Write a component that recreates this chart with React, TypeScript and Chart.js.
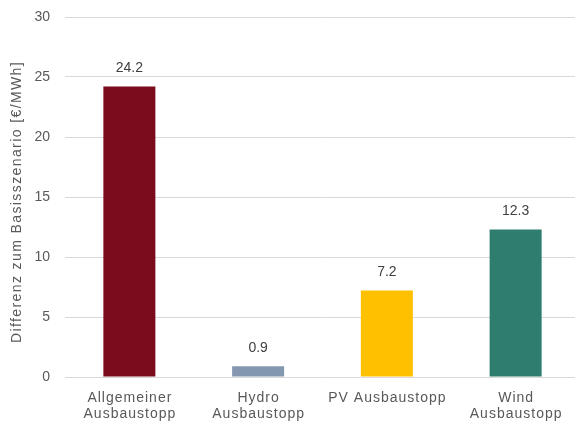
import React, { useEffect, useRef } from "react";
import { Chart, registerables } from "chart.js";

Chart.register(...registerables);

const categories: string[][] = [
  ["Allgemeiner", "Ausbaustopp"],
  ["Hydro", "Ausbaustopp"],
  ["PV Ausbaustopp"],
  ["Wind", "Ausbaustopp"],
];
const values: number[] = [24.2, 0.9, 7.2, 12.3];
const barColors: string[] = ["#7B0C1E", "#8497B0", "#FFC000", "#2E7D6F"];
const yTitle = "Differenz zum Basisszenario [€/MWh]";
const yTicks: number[] = [0, 5, 10, 15, 20, 25, 30];

const FONT = "'Liberation Sans', Arial, sans-serif";
const TEXT = "#595959";

const textPlugin = {
  id: "textPlugin",
  afterDraw(chart: any) {
    const ctx = chart.ctx;
    const area = chart.chartArea;
    const xs = chart.scales.x;
    const meta = chart.getDatasetMeta(0);
    ctx.save();
    // value labels
    ctx.font = `14px ${FONT}`;
    ctx.fillStyle = "#404040";
    ctx.textAlign = "center";
    ctx.textBaseline = "alphabetic";
    (ctx as any).letterSpacing = "0px";
    meta.data.forEach((bar: any, i: number) => {
      ctx.fillText(values[i].toFixed(1), bar.x, bar.y - 14.5);
    });
    // category labels
    ctx.fillStyle = TEXT;
    (ctx as any).letterSpacing = "1px";
    categories.forEach((lines, i) => {
      const x = xs.getPixelForTick(i) + 0.5;
      lines.forEach((line, j) => {
        ctx.fillText(line, x, area.bottom + 25 + j * 16);
      });
    });
    // axis title
    (ctx as any).letterSpacing = "1.4px";
    ctx.translate(17, 202);
    ctx.rotate(-Math.PI / 2);
    ctx.textBaseline = "middle";
    ctx.fillText(yTitle, 0, 0);
    ctx.restore();
  },
};

export default function App() {
  const ref = useRef<HTMLCanvasElement>(null);
  useEffect(() => {
    if (!ref.current) return;
    const chart = new Chart(ref.current, {
      type: "bar",
      data: {
        labels: categories.map((c) => c.join(" ")),
        datasets: [
          {
            data: values,
            backgroundColor: barColors,
            barPercentage: 0.404,
            categoryPercentage: 1,
          },
        ],
      },
      options: {
        animation: false,
        responsive: false,
        devicePixelRatio: 1,
        layout: { padding: { top: 17, left: 0, right: 0, bottom: 0 } },
        plugins: {
          legend: { display: false },
          tooltip: { enabled: false },
        },
        scales: {
          x: {
            grid: { display: false, drawTicks: false },
            border: { display: false },
            ticks: { display: false },
            afterFit(scale: any) {
              scale.height = 46;
              scale.paddingLeft = 0;
              scale.paddingRight = 0;
            },
          },
          y: {
            min: 0,
            max: 30,
            afterBuildTicks(scale: any) {
              scale.ticks = yTicks.map((v) => ({ value: v }));
            },
            ticks: {
              color: TEXT,
              font: { family: FONT, size: 14 },
              padding: 15,
            },
            grid: { color: "#d9d9d9", lineWidth: 1, drawTicks: false },
            border: { display: false },
            afterFit(scale: any) {
              scale.width = 65;
              scale.paddingTop = 0;
              scale.paddingBottom = 0;
            },
          },
        },
      },
      plugins: [textPlugin],
    });
    return () => chart.destroy();
  }, []);
  return (
    <div
      style={{
        position: "fixed",
        left: 0,
        top: 0,
        width: 575,
        height: 423,
        overflow: "hidden",
        background: "#fff",
      }}
    >
      <canvas ref={ref} width={580} height={423} style={{ display: "block" }} />
    </div>
  );
}
